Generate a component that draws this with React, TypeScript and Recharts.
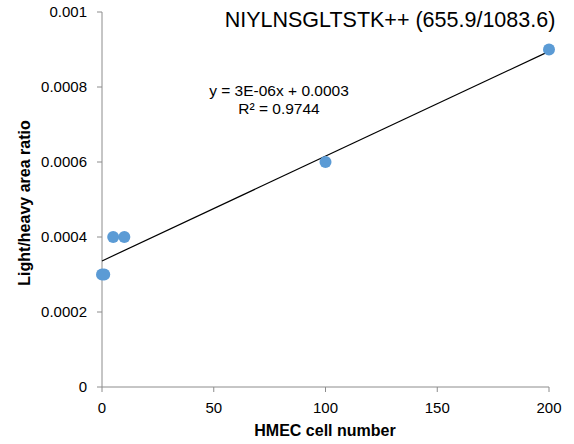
import { ScatterChart, Scatter, XAxis, YAxis } from 'recharts'

const cellNumbers = [0, 1, 5, 10, 100, 200]
const areaRatios = [0.0003, 0.0003, 0.0004, 0.0004, 0.0006, 0.0009]
const xTicks = [0, 50, 100, 150, 200]
const yTicks = [0, 0.0002, 0.0004, 0.0006, 0.0008, 0.001]

const points = cellNumbers.map((x, i) => ({ x, y: areaRatios[i] }))

// least squares trendline through the points
const n = points.length
const mx = cellNumbers.reduce((a, b) => a + b, 0) / n
const my = areaRatios.reduce((a, b) => a + b, 0) / n
let sxy = 0
let sxx = 0
points.forEach(p => {
    sxy += (p.x - mx) * (p.y - my)
    sxx += (p.x - mx) * (p.x - mx)
})
const slope = sxy / sxx
const intercept = my - slope * mx
const trend = [0, 200].map(x => ({ x, y: intercept + slope * x }))

const font = '"Liberation Sans", Arial, sans-serif'
const axisColor = '#8c8c8c'

const Dot = (props: any) => (
    <circle cx={props.cx} cy={props.cy} r={6} fill="#5B9BD5" />
)

export default function App() {
    return (
        <div style={{ position: 'absolute', left: 0, top: 0, width: 574, height: 444, background: '#fff', fontFamily: font }}>
            <ScatterChart width={574} height={444} margin={{ top: 12, right: 25, bottom: 0, left: 0 }}>
                <XAxis
                    type="number" dataKey="x" domain={[0, 200]} ticks={xTicks}
                    stroke={axisColor} height={57} tickSize={5} tickMargin={10}
                    tick={{ fill: '#000', fontSize: 15, fontFamily: font }}
                />
                <YAxis
                    type="number" dataKey="y" domain={[0, 0.001]} ticks={yTicks}
                    stroke={axisColor} width={102} tickSize={5} tickMargin={10}
                    tickFormatter={(v: number) => String(v)}
                    tick={{ fill: '#000', fontSize: 15, fontFamily: font }}
                />
                <Scatter data={trend} line={{ stroke: '#000', strokeWidth: 1.2 }} shape={() => <g />} isAnimationActive={false} />
                <Scatter data={points} shape={Dot} isAnimationActive={false} />
            </ScatterChart>
            <div style={{ position: 'absolute', left: 198, top: 6, width: 384, textAlign: 'center', fontSize: 21.5, lineHeight: '28px' }}>
                NIYLNSGLTSTK++ (655.9/1083.6)
            </div>
            <div style={{ position: 'absolute', left: 179, top: 82, width: 200, textAlign: 'center', fontSize: 15.5, lineHeight: '18px' }}>
                y = 3E-06x + 0.0003<br />R² = 0.9744
            </div>
            <div style={{ position: 'absolute', left: 225, top: 421, width: 200, textAlign: 'center', fontSize: 16, fontWeight: 'bold', lineHeight: '20px' }}>
                HMEC cell number
            </div>
            <div style={{ position: 'absolute', left: 25 - 110, top: 203 - 10, width: 220, textAlign: 'center', fontSize: 16, fontWeight: 'bold', lineHeight: '20px', transform: 'rotate(-90deg)' }}>
                Light/heavy area ratio
            </div>
        </div>
    )
}
